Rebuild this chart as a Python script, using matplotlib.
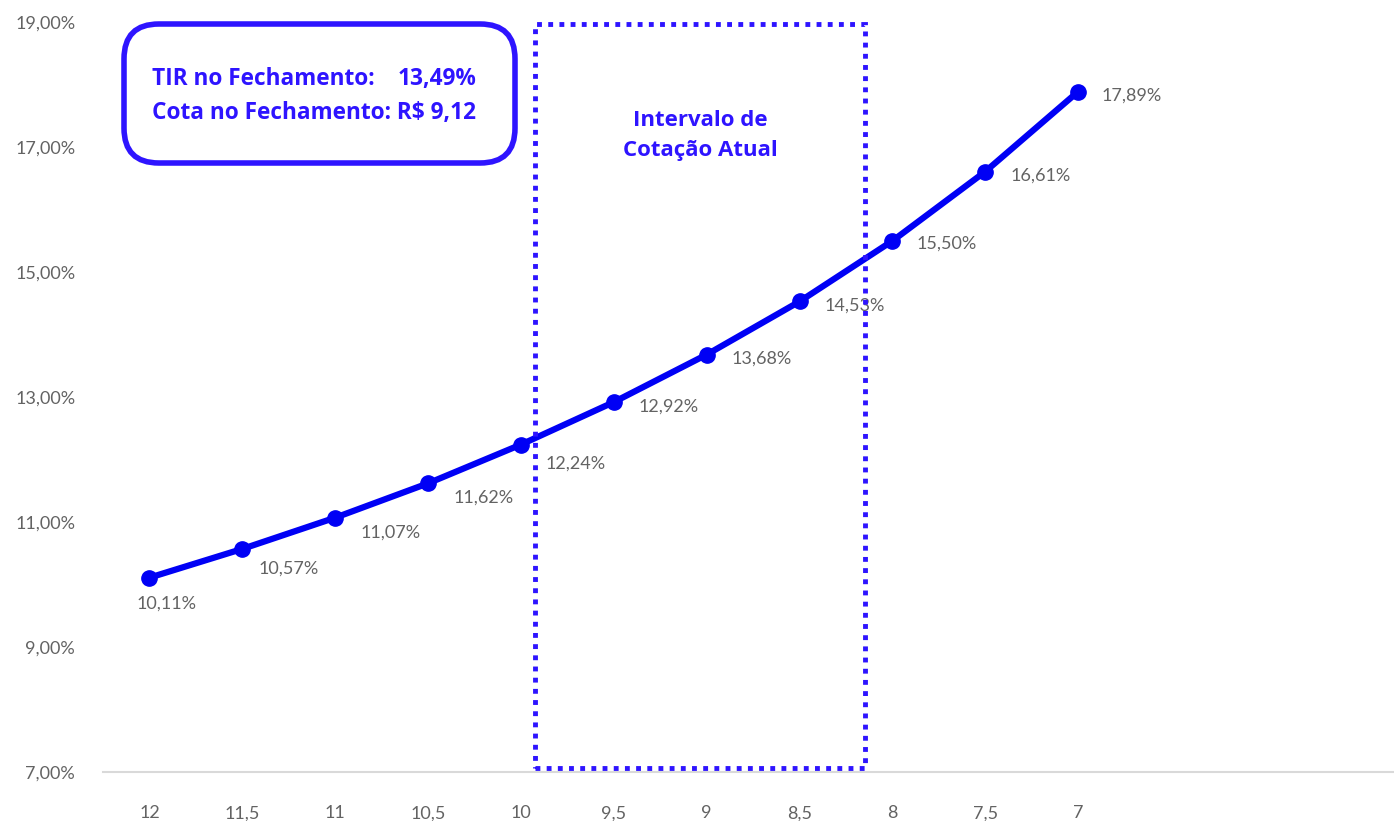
import matplotlib.pyplot as plt
from matplotlib.patches import Rectangle, FancyBboxPatch

precos = ["12", "11,5", "11", "10,5", "10", "9,5", "9", "8,5", "8", "7,5", "7"]
tir = [10.11, 10.57, 11.07, 11.62, 12.24, 12.92, 13.68, 14.53, 15.50, 16.61, 17.89]
yticks = [7, 9, 11, 13, 15, 17, 19]

# deslocamento dos rótulos (pt)
desloc = [(-9, -19), (12, -14), (18, -11), (18, -10), (18, -14), (18, -3),
          (18, -3), (18, -3), (17, -2), (18, -3), (17, -3)]

azul = "#0000F5"
roxo = "#2E14FF"
cinza = "#636363"

plt.rcParams['font.family'] = ['Lato', 'DejaVu Sans']

fig = plt.figure(figsize=(13.94, 8.21), dpi=100)
ax = fig.add_axes([0.0739, 0.0597, 0.9261, 0.9133])

x = list(range(len(precos)))
ax.plot(x, tir, color=azul, lw=4.5, marker="o", ms=11, zorder=3)

for i, v in enumerate(tir):
    lab = f"{v:.2f}%".replace(".", ",")
    ax.annotate(lab, (i, v), xytext=desloc[i], textcoords="offset points",
                ha="left", va="center", fontsize=13, color=cinza)

ax.set_xlim(-0.5, 13.4)
ax.set_ylim(7, 19)
ax.set_xticks(x)
ax.set_xticklabels(precos)
ax.set_yticks(yticks)
ax.set_yticklabels([f"{t:.2f}%".replace(".", ",") for t in yticks])
ax.tick_params(length=0, labelsize=13, labelcolor=cinza)
ax.tick_params(axis="x", pad=24)
ax.tick_params(axis="y", pad=20)
for s in ["top", "right", "left"]:
    ax.spines[s].set_visible(False)
ax.spines["bottom"].set_color("#d9d9d9")
ax.spines["bottom"].set_linewidth(1.5)

# intervalo de cotacao atual
ret = Rectangle((4.155, 7.06), 3.545, 11.91, fill=False, ec=roxo, lw=3.5,
                ls=(0, (1, 1.3)), zorder=4, clip_on=False)
ax.add_patch(ret)
ax.text(5.93, 17.19, "Intervalo de\nCotação Atual", ha="center", va="center",
        fontsize=16, color=roxo, fontweight="bold", linespacing=1.55,
        family=["Open Sans", "DejaVu Sans"])

# caixa de resumo
caixa = FancyBboxPatch((124 / 1394, 1 - 163 / 821), 391 / 1394, 139 / 821,
                       boxstyle="round,pad=0,rounding_size=0.025",
                       transform=fig.transFigure, fill=False, ec=roxo, lw=4,
                       mutation_aspect=1394 / 821)
fig.patches.append(caixa)
fonte_caixa = dict(fontsize=16.3, color=roxo, fontweight="bold",
                   family=["Open Sans", "DejaVu Sans"], va="center")
fig.text(152 / 1394, 1 - 79 / 821, "TIR no Fechamento:", ha="left", **fonte_caixa)
fig.text(477 / 1394, 1 - 79 / 821, "13,49%", ha="right", **fonte_caixa)
fig.text(152 / 1394, 1 - 113 / 821, "Cota no Fechamento: R$ 9,12", ha="left",
         **fonte_caixa)

fig.savefig("out.png", dpi=100)
